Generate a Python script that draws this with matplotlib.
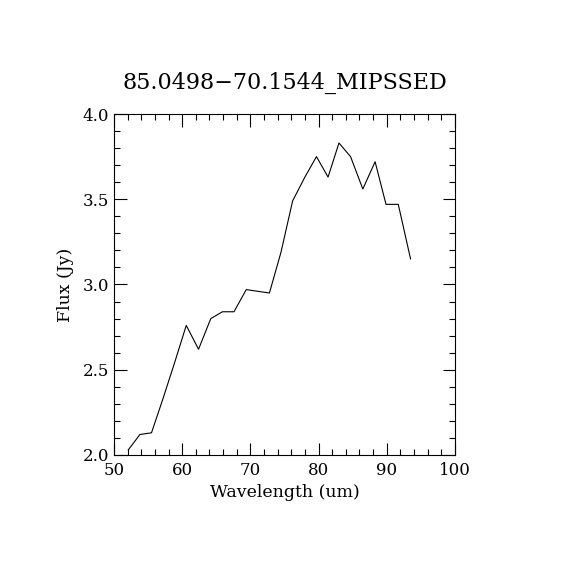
import matplotlib
matplotlib.use("Agg")
import matplotlib.pyplot as plt
from matplotlib.ticker import MultipleLocator

wavelength = [52.1, 53.8, 55.5, 57.1, 58.8, 60.6, 62.4, 64.2, 65.9, 67.6,
              69.4, 71.1, 72.8, 74.5, 76.2, 78.0, 79.7, 81.4, 83.0, 84.7,
              86.5, 88.3, 89.9, 91.7, 93.5]
flux = [2.03, 2.12, 2.13, 2.32, 2.53, 2.76, 2.62, 2.80, 2.84, 2.84,
        2.97, 2.96, 2.95, 3.19, 3.49, 3.63, 3.75, 3.63, 3.83, 3.75,
        3.56, 3.72, 3.47, 3.47, 3.15]
title = "85.0498\u221270.1544_MIPSSED"

plt.rcParams['font.family'] = ['DejaVu Serif']

fig = plt.figure(figsize=(5.7, 5.7), dpi=100)
ax = fig.add_axes([0.2, 0.2018, 0.598, 0.5982])
ax.plot(wavelength, flux, color="black", linewidth=0.8)

ax.set_xlim(50, 100)
ax.set_ylim(2.0, 4.0)
ax.xaxis.set_major_locator(MultipleLocator(10))
ax.xaxis.set_minor_locator(MultipleLocator(2))
ax.yaxis.set_major_locator(MultipleLocator(0.5))
ax.yaxis.set_minor_locator(MultipleLocator(0.1))
ax.yaxis.set_major_formatter(plt.FormatStrFormatter("%.1f"))
ax.tick_params(which="both", direction="in", top=True, right=True, labelsize=12, width=0.8)
ax.tick_params(axis="x", pad=5)
ax.tick_params(which="major", length=9)
ax.tick_params(which="minor", length=4.5)
for s in ax.spines.values():
    s.set_linewidth(0.8)

ax.set_xlabel("Wavelength (um)", fontsize=12.5, labelpad=4)
ax.set_ylabel("Flux (Jy)", fontsize=12.5, labelpad=6)
ax.set_title(title, fontsize=16, pad=18)

fig.savefig("out.png", dpi=100)
